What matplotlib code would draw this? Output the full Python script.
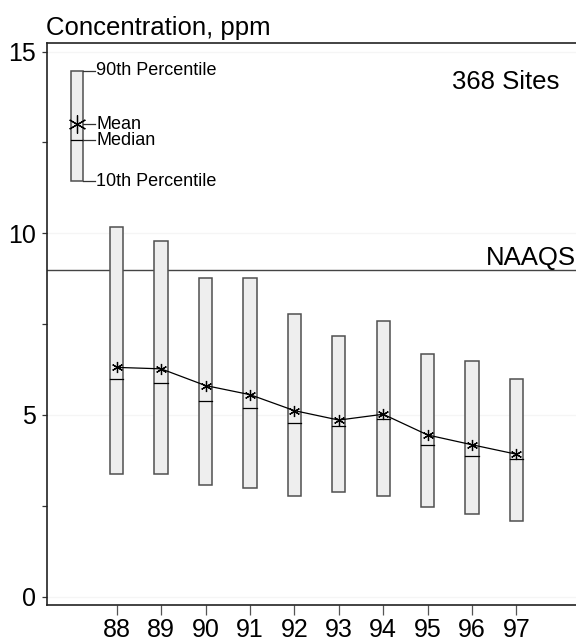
import matplotlib
matplotlib.use("Agg")
import matplotlib.pyplot as plt
from matplotlib.patches import Rectangle

plt.rcParams['font.family'] = ['Liberation Sans', 'DejaVu Sans']

years = [88, 89, 90, 91, 92, 93, 94, 95, 96, 97]
p90 = [10.18, 9.78, 8.78, 8.78, 7.77, 7.18, 7.59, 6.69, 6.49, 5.98]
p10 = [3.38, 3.38, 3.07, 2.98, 2.77, 2.88, 2.77, 2.47, 2.28, 2.08]
median = [5.98, 5.88, 5.38, 5.18, 4.79, 4.69, 4.88, 4.18, 3.88, 3.78]
mean = [6.31, 6.27, 5.81, 5.56, 5.12, 4.86, 5.02, 4.45, 4.18, 3.92]
naaqs = 9.0
site_label = "368 Sites"

# legend key values
key_p90, key_p10, key_mean, key_median = 14.48, 11.44, 13.0, 12.56

fig = plt.figure(figsize=(5.76, 6.42), dpi=100)
ax = fig.add_axes([46.5 / 576, 1 - 605 / 642, 1 - 46.5 / 576, (605 - 43.3) / 642])
ax.set_xlim(86.42, 98.34)
ax.set_ylim(-0.23, 15.23)

box_w = 0.30
edge = '#505050'
fill = '#eeeeee'

# faint grid
for g in [0, 5, 10, 15]:
    ax.axhline(g, color='#f5f5f5', lw=1.0, zorder=0)

# NAAQS line
ax.axhline(naaqs, color='#444444', lw=1.0, zorder=1)
ax.text(1.0, naaqs + 0.14, "NAAQS", transform=ax.get_yaxis_transform(),
        ha='right', va='baseline', fontsize=18.5)

for x, lo, hi, md in zip(years, p10, p90, median):
    ax.add_patch(Rectangle((x - box_w / 2, lo), box_w, hi - lo,
                           facecolor=fill, edgecolor=edge, lw=1.1, zorder=2))
    ax.plot([x - box_w / 2, x + box_w / 2], [md, md], color='black', lw=0.9, zorder=3)

ax.plot(years, mean, color='black', lw=0.9, zorder=4,
        marker=(6, 2, 0), markersize=8, markeredgewidth=0.9)

# legend key
kx = 87.11
kw = 0.28
ax.add_patch(Rectangle((kx - kw / 2, key_p10), kw, key_p90 - key_p10,
                       facecolor=fill, edgecolor=edge, lw=1.1, zorder=2))
ax.plot([kx - kw / 2, kx + kw / 2], [key_median, key_median], color='black', lw=0.9, zorder=3)
ax.plot([kx], [key_mean], marker=(6, 2, 0), markersize=13, color='black',
        markeredgewidth=0.9, zorder=4)
lead0 = kx + kw / 2
lead1 = lead0 + 0.27
for yv, lab in [(key_p90, "90th Percentile"), (key_mean, "Mean"),
                (key_median, "Median"), (key_p10, "10th Percentile")]:
    ax.plot([lead0, lead1], [yv, yv], color='#333333', lw=0.9, zorder=3)
    ax.text(lead1 + 0.02, yv, lab, ha='left', va='center', fontsize=13)

ax.text(95.54, 14.17, site_label, ha='left', va='center', fontsize=18.5)

ax.set_xticks(years)
ax.set_xticklabels([str(y) for y in years])
ax.set_yticks([0, 5, 10, 15])
ax.set_yticks([2.5, 7.5, 12.5], minor=True)
ax.tick_params(axis='y', which='both', length=3.5, width=0.9, color='#333333',
               labelsize=18, pad=4)
ax.tick_params(axis='x', length=7, width=0.9, color='#555555', labelsize=18, pad=2.5)
ax.spines['right'].set_visible(False)
for s in ['left', 'top', 'bottom']:
    ax.spines[s].set_linewidth(1.2)
    ax.spines[s].set_color('#222222')

fig.text(46.5 / 576, 1 - 35 / 642, "Concentration, ppm", ha='left', va='baseline', fontsize=18.5)

fig.savefig("out.png", dpi=100)
